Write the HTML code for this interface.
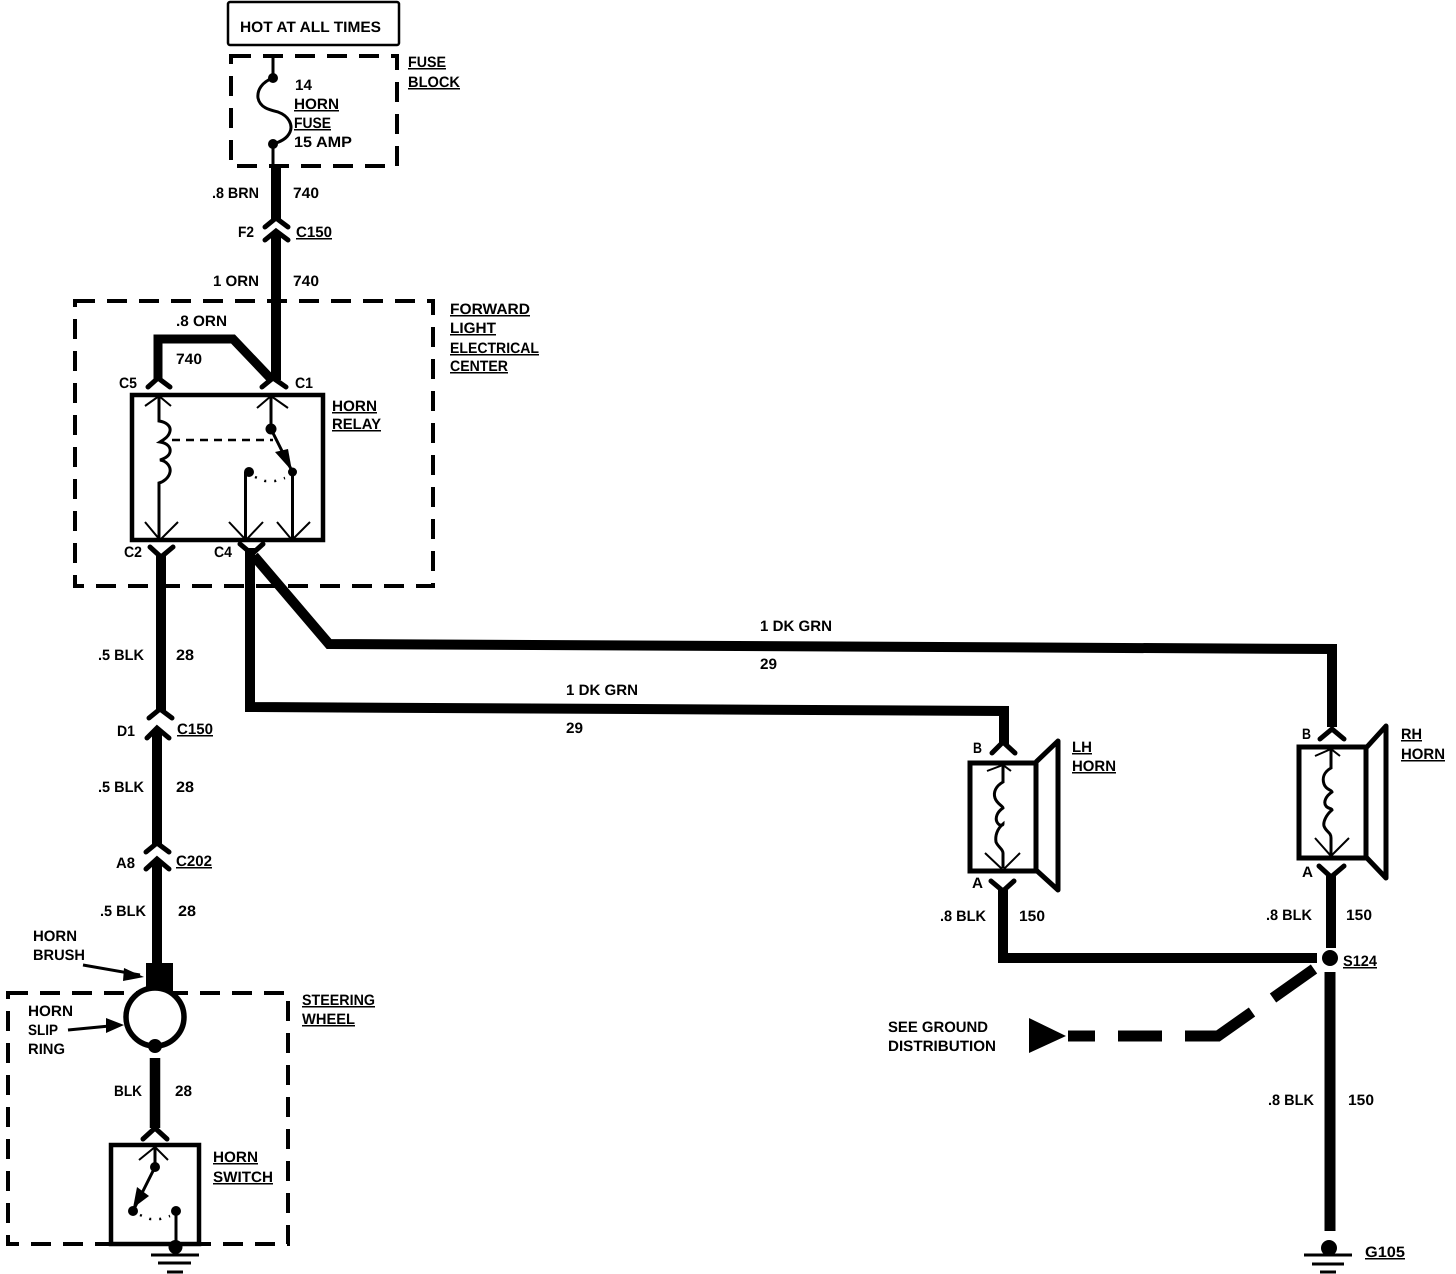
<!DOCTYPE html>
<html><head><meta charset="utf-8"><style>
html,body{margin:0;padding:0;background:#fff}
svg{display:block}
text{font-family:"Liberation Sans",sans-serif;font-weight:700;font-size:15px;fill:#000;text-rendering:geometricPrecision}
.u{text-decoration:underline}
.w{fill:none;stroke:#000;stroke-linejoin:miter}
.d{fill:none;stroke:#000;stroke-width:4;stroke-dasharray:20 12}
.c{fill:none;stroke:#000;stroke-width:5;stroke-linecap:round;stroke-linejoin:miter}
.i{fill:none;stroke:#000;stroke-width:2}
.t{fill:none;stroke:#000;stroke-width:3}
</style></head><body>
<svg width="1456" height="1274" viewBox="0 0 1456 1274" xmlns="http://www.w3.org/2000/svg">
<!-- top box -->
<rect x="228" y="2" width="171" height="43" rx="2" fill="none" stroke="#000" stroke-width="2.5"/>
<!-- dashed boxes -->
<rect class="d" x="231" y="56" width="166" height="110"/>
<rect class="d" x="75" y="301" width="358" height="285"/>
<rect class="d" x="8" y="993" width="280" height="251"/>
<!-- fuse -->
<path class="t" d="M273 56V78C262 82 257 90 258 98C260 108 270 110 278 112C289 116 293 125 290 132C287 139 280 142 273 144V166"/>
<circle cx="273" cy="78" r="5"/><circle cx="273" cy="144" r="5"/>
<path class="w" stroke-width="10" d="M276 166V219"/>
<path class="c" d="M265 227L276 218L288 227"/>
<path class="c" d="M265 240L276 231L288 240"/>
<path class="w" stroke-width="10" d="M276 232V380"/>
<!-- branch to C5 -->
<path class="w" stroke-width="9" d="M158 380V339H233L272 380"/>
<path class="c" d="M148 387L158 378L170 387"/>
<path class="c" d="M262 387L273 378L286 387"/>
<!-- relay -->
<rect x="132" y="395" width="191" height="145" fill="none" stroke="#000" stroke-width="4.5"/>
<path class="t" d="M159 396V421C166 422 171 426 170 431C169 437 163 440 160 442C167 443 171 447 170 452C169 457 163 459 160 460C167 461 171 467 170 472C169 478 163 482 159 483V540"/>
<path class="i" d="M145 406L159 396L171 406"/>
<path class="i" d="M145 522L160 540L178 522"/>
<path class="t" d="M271 396V429L292 471"/>
<path class="i" d="M257 408L271 396L288 408"/>
<circle cx="271" cy="429" r="5.5"/>
<path d="M275 452L288 449L292 471Z"/>
<path d="M172 440H273" fill="none" stroke="#000" stroke-width="2.5" stroke-dasharray="8 6"/>
<circle cx="292.5" cy="472" r="4.5"/><circle cx="249" cy="472" r="5"/>
<path class="t" d="M245.500 472V540"/><path class="t" d="M292.500 472V540"/>
<path d="M255 477L265 481L275 481L285 478" fill="none" stroke="#000" stroke-width="2.500" stroke-dasharray="2 8"/>
<path class="i" d="M229 522L246 540L263 522"/>
<path class="i" d="M277 522L292 540L310 522"/>
<path class="c" d="M150 547L161 557L173 547"/>
<path class="c" d="M240 544L252 554L263 544"/>
<!-- C2 wire -->
<path class="w" stroke-width="10" d="M161 555V712"/>
<path class="c" d="M149 718L160 709L172 718"/>
<path class="c" d="M147 738L157 728L169 738"/>
<path class="w" stroke-width="10" d="M157 730V846"/>
<path class="c" d="M146 852L157 843L169 852"/>
<path class="c" d="M146 869L157 859L169 869"/>
<path class="w" stroke-width="10" d="M157 861V965"/>
<rect x="146" y="963" width="27" height="28"/>
<circle cx="155" cy="1017" r="29" fill="#fff" stroke="#000" stroke-width="5.500"/>
<circle cx="155" cy="1046" r="7"/>
<path class="w" stroke-width="10.500" d="M155 1058V1128"/>
<path class="c" d="M143 1139L155 1128L167 1139"/>
<!-- switch -->
<rect x="111" y="1145" width="88" height="99" fill="none" stroke="#000" stroke-width="4.500"/>
<path class="i" d="M139 1160L155 1147L168 1160"/>
<path class="t" d="M155 1147V1167L133 1211"/>
<circle cx="155" cy="1167" r="5"/><circle cx="133" cy="1211" r="5"/><circle cx="176" cy="1211" r="5"/>
<path d="M133 1208L137 1187L149 1196Z"/>
<path class="t" d="M176 1211V1244"/>
<path d="M140 1215L150 1219L160 1219L170 1216" fill="none" stroke="#000" stroke-width="2.500" stroke-dasharray="2 8"/>
<circle cx="175.500" cy="1247" r="7"/>
<path d="M151 1255H199M158 1263H191M167 1272H183" fill="none" stroke="#000" stroke-width="3"/>
<!-- brush / ring arrows -->
<path class="t" d="M83 965L140 975"/><path d="M144 977L124 968L123 981Z"/>
<path class="t" d="M68 1030L120 1025"/><path d="M124 1025L106 1018L106 1033Z"/>
<!-- C4 wires -->
<path class="w" stroke-width="10" d="M250 548V707L1004 711V745"/>
<path class="w" stroke-width="10" d="M254 556L329 644L1332 649V727"/>
<!-- LH horn -->
<path class="c" d="M992 753L1003 742L1015 753"/>
<rect x="970" y="763" width="66" height="108" fill="none" stroke="#000" stroke-width="5"/>
<path d="M1036 762L1058 741V890L1036 870" fill="none" stroke="#000" stroke-width="5" stroke-linejoin="round"/>
<path class="t" d="M1003 765V782C996 786 993 792 995 798C997 804 1003 806 1003 808C997 812 995 818 997 822C999 826 1003 826 1003 824C997 829 995 836 996 842C998 847 1003 849 1003 853V868"/>
<path class="i" d="M987 771L1003 765L1011 771"/>
<path class="i" d="M985 853L1003 870L1020 853"/>
<path class="c" d="M991 881L1003 891L1014 881"/>
<path class="w" stroke-width="10" d="M1003 890V958H1317" />
<!-- RH horn -->
<path class="c" d="M1320 739L1332 729L1344 739"/>
<rect x="1299" y="747" width="67" height="111" fill="none" stroke="#000" stroke-width="5"/>
<path d="M1366 748L1386 726V878L1366 857" fill="none" stroke="#000" stroke-width="5" stroke-linejoin="round"/>
<path class="t" d="M1331 750V768C1324 772 1322 778 1324 784C1326 790 1332 790 1332 792C1326 796 1323 802 1326 806C1328 809 1332 808 1332 810C1326 815 1323 822 1324 826C1326 832 1331 832 1331 838V855"/>
<path class="i" d="M1315 756L1331 749L1340 756"/>
<path class="i" d="M1315 838L1331 856L1349 838"/>
<path class="c" d="M1319 866L1331 877L1344 866"/>
<path class="w" stroke-width="10" d="M1331 876V948"/>
<circle cx="1330" cy="958" r="8"/>
<path class="w" stroke-width="11" d="M1330 972V1231"/>
<circle cx="1329" cy="1248" r="8"/>
<path d="M1304 1255H1352M1312 1264H1344M1320 1272H1336" fill="none" stroke="#000" stroke-width="3"/>
<!-- ground dashed -->
<path d="M1029 1018L1066 1036L1029 1053Z"/>
<path d="M1068 1036H1095M1118 1036H1162M1185 1036H1218L1252 1012M1273 998L1314 969" fill="none" stroke="#000" stroke-width="11"/>
<!-- labels -->
<text x="240" y="32" textLength="141" lengthAdjust="spacingAndGlyphs">HOT AT ALL TIMES</text>
<text class="u" x="408" y="67" textLength="38" lengthAdjust="spacingAndGlyphs">FUSE</text>
<text class="u" x="408" y="87" textLength="52" lengthAdjust="spacingAndGlyphs">BLOCK</text>
<text x="295" y="90" textLength="17" lengthAdjust="spacingAndGlyphs">14</text>
<text class="u" x="294" y="109" textLength="45" lengthAdjust="spacingAndGlyphs">HORN</text>
<text class="u" x="294" y="128" textLength="37" lengthAdjust="spacingAndGlyphs">FUSE</text>
<text x="294" y="147" textLength="58" lengthAdjust="spacingAndGlyphs">15 AMP</text>
<text x="212" y="198" textLength="47" lengthAdjust="spacingAndGlyphs">.8 BRN</text>
<text x="293" y="198" textLength="26" lengthAdjust="spacingAndGlyphs">740</text>
<text x="238" y="237" textLength="16" lengthAdjust="spacingAndGlyphs">F2</text>
<text class="u" x="296" y="237" textLength="36" lengthAdjust="spacingAndGlyphs">C150</text>
<text x="213" y="286" textLength="46" lengthAdjust="spacingAndGlyphs">1 ORN</text>
<text x="293" y="286" textLength="26" lengthAdjust="spacingAndGlyphs">740</text>
<text class="u" x="450" y="314" textLength="80" lengthAdjust="spacingAndGlyphs">FORWARD</text>
<text class="u" x="450" y="333" textLength="46" lengthAdjust="spacingAndGlyphs">LIGHT</text>
<text class="u" x="450" y="353" textLength="89" lengthAdjust="spacingAndGlyphs">ELECTRICAL</text>
<text class="u" x="450" y="371" textLength="58" lengthAdjust="spacingAndGlyphs">CENTER</text>
<text x="176" y="326" textLength="51" lengthAdjust="spacingAndGlyphs">.8 ORN</text>
<text x="176" y="364" textLength="26" lengthAdjust="spacingAndGlyphs">740</text>
<text x="119" y="388" textLength="18" lengthAdjust="spacingAndGlyphs">C5</text>
<text x="295" y="388" textLength="18" lengthAdjust="spacingAndGlyphs">C1</text>
<text class="u" x="332" y="411" textLength="45" lengthAdjust="spacingAndGlyphs">HORN</text>
<text class="u" x="332" y="429" textLength="49" lengthAdjust="spacingAndGlyphs">RELAY</text>
<text x="124" y="557" textLength="18" lengthAdjust="spacingAndGlyphs">C2</text>
<text x="214" y="557" textLength="18" lengthAdjust="spacingAndGlyphs">C4</text>
<text x="98" y="660" textLength="46" lengthAdjust="spacingAndGlyphs">.5 BLK</text>
<text x="176" y="660" textLength="18" lengthAdjust="spacingAndGlyphs">28</text>
<text x="117" y="736" textLength="18" lengthAdjust="spacingAndGlyphs">D1</text>
<text class="u" x="177" y="734" textLength="36" lengthAdjust="spacingAndGlyphs">C150</text>
<text x="98" y="792" textLength="46" lengthAdjust="spacingAndGlyphs">.5 BLK</text>
<text x="176" y="792" textLength="18" lengthAdjust="spacingAndGlyphs">28</text>
<text x="116" y="868" textLength="19" lengthAdjust="spacingAndGlyphs">A8</text>
<text class="u" x="176" y="866" textLength="36" lengthAdjust="spacingAndGlyphs">C202</text>
<text x="100" y="916" textLength="46" lengthAdjust="spacingAndGlyphs">.5 BLK</text>
<text x="178" y="916" textLength="18" lengthAdjust="spacingAndGlyphs">28</text>
<text x="33" y="941" textLength="44" lengthAdjust="spacingAndGlyphs">HORN</text>
<text x="33" y="960" textLength="52" lengthAdjust="spacingAndGlyphs">BRUSH</text>
<text class="u" x="302" y="1005" textLength="73" lengthAdjust="spacingAndGlyphs">STEERING</text>
<text class="u" x="302" y="1024" textLength="53" lengthAdjust="spacingAndGlyphs">WHEEL</text>
<text x="28" y="1016" textLength="45" lengthAdjust="spacingAndGlyphs">HORN</text>
<text x="28" y="1035" textLength="30" lengthAdjust="spacingAndGlyphs">SLIP</text>
<text x="28" y="1054" textLength="37" lengthAdjust="spacingAndGlyphs">RING</text>
<text x="114" y="1096" textLength="28" lengthAdjust="spacingAndGlyphs">BLK</text>
<text x="175" y="1096" textLength="17" lengthAdjust="spacingAndGlyphs">28</text>
<text class="u" x="213" y="1162" textLength="45" lengthAdjust="spacingAndGlyphs">HORN</text>
<text class="u" x="213" y="1182" textLength="60" lengthAdjust="spacingAndGlyphs">SWITCH</text>
<text x="760" y="631" textLength="72" lengthAdjust="spacingAndGlyphs">1 DK GRN</text>
<text x="760" y="669" textLength="17" lengthAdjust="spacingAndGlyphs">29</text>
<text x="566" y="695" textLength="72" lengthAdjust="spacingAndGlyphs">1 DK GRN</text>
<text x="566" y="733" textLength="17" lengthAdjust="spacingAndGlyphs">29</text>
<text x="973" y="753" textLength="9" lengthAdjust="spacingAndGlyphs">B</text>
<text class="u" x="1072" y="752" textLength="20" lengthAdjust="spacingAndGlyphs">LH</text>
<text class="u" x="1072" y="771" textLength="44" lengthAdjust="spacingAndGlyphs">HORN</text>
<text x="972" y="888" textLength="11" lengthAdjust="spacingAndGlyphs">A</text>
<text x="940" y="921" textLength="46" lengthAdjust="spacingAndGlyphs">.8 BLK</text>
<text x="1019" y="921" textLength="26" lengthAdjust="spacingAndGlyphs">150</text>
<text x="1302" y="739" textLength="9" lengthAdjust="spacingAndGlyphs">B</text>
<text class="u" x="1401" y="739" textLength="21" lengthAdjust="spacingAndGlyphs">RH</text>
<text class="u" x="1401" y="759" textLength="44" lengthAdjust="spacingAndGlyphs">HORN</text>
<text x="1302" y="877" textLength="11" lengthAdjust="spacingAndGlyphs">A</text>
<text x="1266" y="920" textLength="46" lengthAdjust="spacingAndGlyphs">.8 BLK</text>
<text x="1346" y="920" textLength="26" lengthAdjust="spacingAndGlyphs">150</text>
<text class="u" x="1343" y="966" textLength="34" lengthAdjust="spacingAndGlyphs">S124</text>
<text x="888" y="1032" textLength="100" lengthAdjust="spacingAndGlyphs">SEE GROUND</text>
<text x="888" y="1051" textLength="108" lengthAdjust="spacingAndGlyphs">DISTRIBUTION</text>
<text x="1268" y="1105" textLength="46" lengthAdjust="spacingAndGlyphs">.8 BLK</text>
<text x="1348" y="1105" textLength="26" lengthAdjust="spacingAndGlyphs">150</text>
<text class="u" x="1365" y="1257" textLength="40" lengthAdjust="spacingAndGlyphs">G105</text>
</svg>
</body></html>
